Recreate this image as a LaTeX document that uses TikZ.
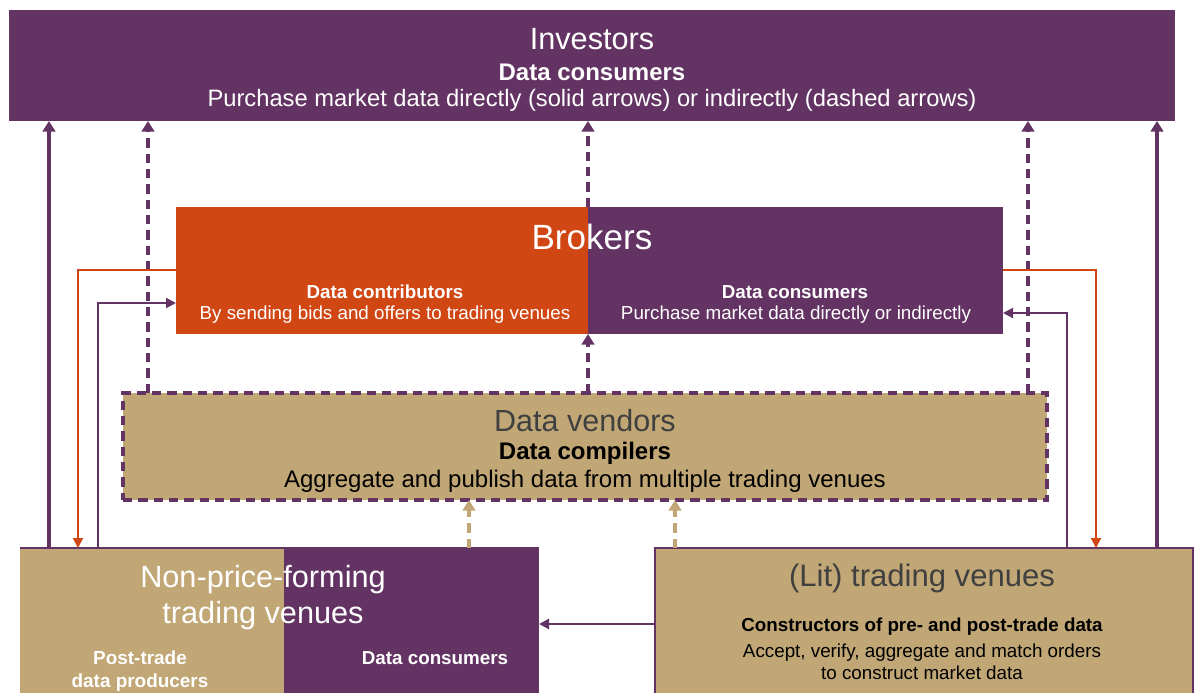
\documentclass[tikz,border=0pt]{standalone}
\usepackage{fontspec}
\setmainfont{Liberation Sans}
\usetikzlibrary{arrows.meta,calc}
\definecolor{purp}{RGB}{99,51,99}
\definecolor{orng}{RGB}{208,71,20}
\definecolor{tan}{RGB}{193,167,117}
\definecolor{dgrey}{RGB}{64,64,64}
\begin{document}
\begin{tikzpicture}[x=0.75pt,y=-0.75pt,
  box/.style={anchor=north west,inner sep=0pt,outer sep=0pt,draw=none},
  txt/.style={inner sep=0pt,align=center},
  thick arrow/.style={purp,line width=2.4pt,-{Triangle[length=8pt,width=9.5pt]}},
  thin arrow/.style={line width=1.5pt,-{Triangle[length=7.5pt,width=7.5pt]}},
  dash arrow/.style={line width=2.6pt,dash pattern=on 7pt off 4.5pt,-{Triangle[length=8pt,width=9.5pt]}}]
\useasboundingbox (0,0) rectangle (1197,693);
% boxes
\node[box,fill=purp,minimum width=874.5pt,minimum height=83.25pt] (inv) at (9,10) {};
\node[box,fill=orng,minimum width=309pt,minimum height=95.25pt] (brL) at (176,207) {};
\node[box,fill=purp,minimum width=311.25pt,minimum height=95.25pt] (brR) at (588,207) {};
\node[box,fill=tan,draw=purp,line width=2.6pt,dash pattern=on 7pt off 4.5pt,minimum width=693pt,minimum height=80.25pt] (dv) at (123,393) {};
\node[box,fill=tan,minimum width=198pt,minimum height=114pt] (npL) at (20,548) {};
\node[box,fill=purp,minimum width=191.25pt,minimum height=114pt] (npR) at (284,548) {};
\draw[purp,line width=1.2pt] (npL.north west) -- (npR.north east);
\node[box,fill=tan,draw=purp,line width=1.5pt,minimum width=403.5pt,minimum height=114pt] (lit) at (655,548) {};
% texts
\node[txt,white,font=\fontsize{23}{26}\selectfont] (t1) at (592,39) {Investors};
\node[txt,white,font=\fontsize{18}{21}\selectfont\bfseries] (t2) at (592,72) {Data consumers};
\node[txt,white,font=\fontsize{17.8}{21}\selectfont] (t3) at (592,100) {Purchase market data directly (solid arrows) or indirectly (dashed arrows)};
\node[txt,white,font=\fontsize{26.3}{30}\selectfont] (t4) at (592,237) {Brokers};
\node[txt,white,font=\fontsize{14.1}{17}\selectfont\bfseries] (t5) at (385,292) {Data contributors};
\node[txt,white,font=\fontsize{14.1}{17}\selectfont] (t6) at (385,315) {By sending bids and offers to trading venues};
\node[txt,white,font=\fontsize{14.1}{17}\selectfont\bfseries] (t7) at (795,292) {Data consumers};
\node[txt,white,font=\fontsize{14.1}{17}\selectfont] (t8) at (796,315) {Purchase market data directly or indirectly};
\node[txt,dgrey,font=\fontsize{22.9}{26}\selectfont] (t9) at (585,421) {Data vendors};
\node[txt,black,font=\fontsize{18}{21}\selectfont\bfseries] (t10) at (585,453) {Data compilers};
\node[txt,black,font=\fontsize{18}{21}\selectfont] (t11) at (585,481) {Aggregate and publish data from multiple trading venues};
\node[txt,white,font=\fontsize{23}{27}\selectfont] (t12) at (263,598) {Non-price-forming\\trading venues};
\node[txt,white,font=\fontsize{14.2}{17.25}\selectfont\bfseries] (t13) at (140,671) {Post-trade\\data producers};
\node[txt,white,font=\fontsize{14.1}{17}\selectfont\bfseries] (t14) at (435,658) {Data consumers};
\node[txt,dgrey,font=\fontsize{23.3}{26}\selectfont] (t15) at (922,578) {(Lit) trading venues};
\node[txt,black,font=\fontsize{14.1}{17}\selectfont\bfseries] (t16) at (922,627) {Constructors of pre- and post-trade data};
\node[txt,black,font=\fontsize{14.1}{16.5}\selectfont] (t17) at (922,662) {Accept, verify, aggregate and match orders\\to construct market data};
% solid arrows to investors
\draw[thick arrow] (npL.north west -| 49,0) -- (inv.south west -| 49,0);
\draw[thick arrow] (lit.north west -| 1157,0) -- (inv.south west -| 1157,0);
% dashed to investors
\draw[dash arrow,purp] (dv.north west -| 148,0) -- (inv.south west -| 148,0);
\draw[dash arrow,purp] (brR.north west) -- (inv.south west -| brR.north west);
\draw[dash arrow,purp] (dv.north west -| 1028,0) -- (inv.south west -| 1028,0);
\draw[dash arrow,purp] (dv.north west -| brR.north west) -- (brR.south west);
% brokers <-> venues
\draw[thin arrow,orng] (brL.west |- 0,270) -| (npL.north west -| 78,0);
\draw[thin arrow,purp] (npL.north west -| 98,0) |- (brL.west |- 0,303);
\draw[thin arrow,orng] (brR.east |- 0,270) -| (lit.north west -| 1096,0);
\draw[thin arrow,purp] (lit.north west -| 1067,0) |- (brR.east |- 0,313);
% tan dashed
\draw[dash arrow,tan] (npR.north west -| 469,0) -- (dv.south west -| 469,0);
\draw[dash arrow,tan] (lit.north west -| 675,0) -- (dv.south west -| 675,0);
% lit -> non-price
\draw[thin arrow,purp,line width=2pt] (lit.west |- 0,624) -- (npR.east |- 0,624);
\end{tikzpicture}
\end{document}
